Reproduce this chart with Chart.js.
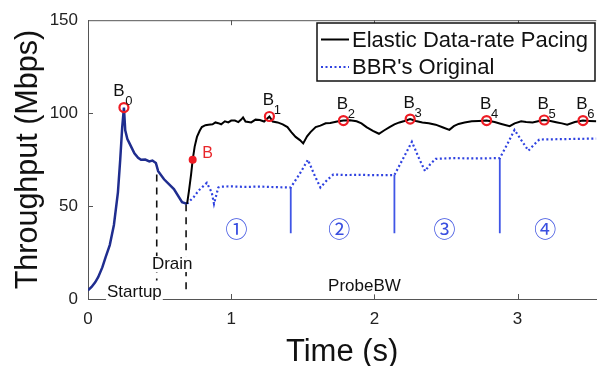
<!DOCTYPE html>
<html>
<head>
<meta charset="utf-8">
<script src="https://cdn.jsdelivr.net/npm/chart.js@4.4.1/dist/chart.umd.min.js"></script>
<style>
html, body { margin: 0; padding: 0; background: #fff; overflow: hidden; }
canvas { display: block; }
</style>
</head>
<body>
<canvas id="myChart" width="603" height="366"></canvas>
<script>
// values: time (s) / throughput (Mbps)
var startupT = [0, 0.025, 0.05, 0.071, 0.1, 0.122, 0.152, 0.181, 0.209, 0.225, 0.239, 0.251, 0.26, 0.275, 0.29, 0.324, 0.35, 0.37, 0.4, 0.428, 0.45, 0.474, 0.49, 0.531, 0.6, 0.657, 0.692];
var startupV = [4.7, 6.5, 9, 11.7, 17, 22.3, 29, 39.8, 57.4, 74.9, 92.5, 103, 90.7, 86, 83.7, 78.4, 76, 74.9, 75, 74, 74.5, 73.2, 68.8, 64.4, 59.1, 52.1, 51.2];

var elasticT = [0.692, 0.705, 0.72, 0.731, 0.745, 0.761, 0.78, 0.795, 0.82, 0.841, 0.87, 0.89, 0.91, 0.93, 0.956, 0.98, 1.0, 1.026, 1.05, 1.07, 1.083, 1.1, 1.14, 1.17, 1.2, 1.23, 1.267, 1.29, 1.324, 1.36, 1.393, 1.42, 1.45, 1.48, 1.503, 1.53, 1.554, 1.59, 1.623, 1.66, 1.692, 1.74, 1.784, 1.83, 1.876, 1.91, 1.945, 1.99, 2.032, 2.07, 2.106, 2.14, 2.175, 2.21, 2.25, 2.29, 2.335, 2.38, 2.428, 2.48, 2.524, 2.555, 2.588, 2.63, 2.68, 2.73, 2.784, 2.84, 2.887, 2.945, 2.98, 3.025, 3.06, 3.105, 3.15, 3.186, 3.23, 3.278, 3.31, 3.347, 3.4, 3.457, 3.5, 3.55];
var elasticV = [51.2, 58, 67, 74.9, 82, 87.2, 90.5, 92.5, 93.5, 93.8, 94, 95, 94.6, 94, 95.6, 95, 96, 96, 95.2, 96.5, 97.7, 95.5, 95, 96.5, 96.3, 95.5, 98.2, 95.5, 95, 94, 92.5, 89.8, 87.2, 85.5, 83.7, 87.5, 89.8, 92.5, 93.3, 94.5, 94.7, 95.5, 96, 96.2, 95.6, 94.5, 92.5, 90.5, 88.9, 90.8, 92.5, 94, 95, 95.8, 96.8, 95.8, 95, 94.6, 93.8, 92.3, 91, 93, 94.2, 95, 95.6, 95.8, 96, 95.2, 94.2, 93, 94.5, 95.6, 95.2, 95, 95.8, 96.3, 95.8, 95, 94.5, 93.8, 95.2, 96, 95.8, 95.6];

var bbrT = [0.692, 0.703, 0.74, 0.772, 0.83, 0.864, 0.88, 0.91, 0.922, 1.0, 1.1, 1.2, 1.3, 1.416, 1.48, 1.536, 1.58, 1.623, 1.67, 1.714, 1.8, 1.9, 2.0, 2.14, 2.2, 2.262, 2.31, 2.354, 2.39, 2.428, 2.55, 2.7, 2.876, 2.93, 2.979, 3.03, 3.076, 3.115, 3.152, 3.3, 3.45, 3.55];
var bbrV = [51.2, 52.1, 55, 58.3, 62.5, 57.4, 51.2, 60, 60.4, 60.6, 60.3, 60.5, 60.2, 60, 67.5, 74.9, 67, 60, 64, 67, 66.7, 66.8, 66.6, 66.7, 75.5, 84.6, 76, 68.8, 72.5, 75.4, 75.8, 75.6, 75.8, 83.5, 91, 85, 79.8, 83, 85.8, 86, 86.2, 86.3];

// ProbeBW cycle boundaries (solid blue) and phase boundaries (dashed black)
var cycleT = [1.416, 2.14, 2.876];
var cycleTop = [60, 66.7, 75.8];
var cycleBottom = [35.4, 35.4, 35.4];
var phaseT = [0.48, 0.685];
var phaseTop = [67, 51];
var phaseBottom = [10, 3.5];

// B_i markers
var markT = [0.251, 1.267, 1.784, 2.25, 2.784, 3.186, 3.457];
var markV = [103, 98.2, 96, 96.8, 96, 96.3, 96];
var markSub = ['0', '1', '2', '3', '4', '5', '6'];
var bPointT = [0.731];
var bPointV = [74.9];

// text in the plot
var phaseNames = ['Startup', 'Drain', 'ProbeBW'];
var phaseNameT = [0.324, 0.588, 1.931];
var phaseNameV = [3.8, 18.8, 6.8];
var cycleNames = ['\u2460', '\u2461', '\u2462', '\u2463'];
var cycleNameT = [1.037, 1.754, 2.49, 3.193];
var cycleNameV = [37.6, 37.6, 37.6, 37.6];

var xTicks = [0, 1, 2, 3];
var yTicks = [0, 50, 100, 150];

var FONT = '"Liberation Sans", Arial, Helvetica, sans-serif';

function pts(xs, ys) {
    return xs.map(function(x, i) { return {x: x, y: ys[i]}; });
}
// vertical segments separated by gaps
function segs(xs, tops, bottoms) {
    var out = [];
    xs.forEach(function(x, i) {
        out.push({x: x, y: tops[i]});
        out.push({x: x, y: bottoms[i]});
        out.push({x: x, y: null});
    });
    return out;
}

var axisColor = '#555';

var extras = {
    id: 'extras',
    afterDraw: function(chart) {
        var ctx = chart.ctx;
        var xs = chart.scales.x, ys = chart.scales.y;
        var a = chart.chartArea;
        ctx.save();
        // top frame line and inner ticks
        ctx.strokeStyle = axisColor;
        ctx.lineWidth = 1;
        ctx.beginPath();
        ctx.moveTo(a.left, a.top + 0.5);
        ctx.lineTo(a.right, a.top + 0.5);
        xTicks.forEach(function(v) {
            if (v === 0) return;
            var px = Math.round(xs.getPixelForValue(v)) + 0.5;
            ctx.moveTo(px, a.bottom); ctx.lineTo(px, a.bottom - 5);
            ctx.moveTo(px, a.top); ctx.lineTo(px, a.top + 5);
        });
        yTicks.forEach(function(v) {
            if (v === 0 || v === 150) return;
            var py = Math.round(ys.getPixelForValue(v)) + 0.5;
            ctx.moveTo(a.left, py); ctx.lineTo(a.left + 5, py);
        });
        ctx.stroke();

        // B_i labels
        ctx.textAlign = 'center';
        ctx.textBaseline = 'middle';
        markT.forEach(function(t, i) {
            var px = xs.getPixelForValue(t), py = ys.getPixelForValue(markV[i]);
            ctx.fillStyle = '#111';
            ctx.font = '17px ' + FONT;
            ctx.fillText('B', px - (i === 0 ? 5 : 1), py - 16);
            ctx.font = '13px ' + FONT;
            ctx.fillText(markSub[i], px + (i === 0 ? 5 : 8), py - 6);
        });
        // red B
        ctx.fillStyle = '#e8262a';
        ctx.font = '16px ' + FONT;
        ctx.fillText('B', xs.getPixelForValue(bPointT[0]) + 15, ys.getPixelForValue(bPointV[0]) - 6);

        // phase names (white behind, so dashed lines break at the text)
        ctx.font = '17px ' + FONT;
        phaseNames.forEach(function(s, i) {
            var px = xs.getPixelForValue(phaseNameT[i]), py = ys.getPixelForValue(phaseNameV[i]);
            var w = ctx.measureText(s).width;
            ctx.fillStyle = '#fff';
            ctx.fillRect(px - w / 2 - 1, py - 8, w + 2, 16);
            ctx.fillStyle = '#111';
            ctx.fillText(s, px, py);
        });
        // circled cycle numbers
        ctx.fillStyle = '#3a4fe0';
        ctx.font = '22px "Noto Sans CJK JP", "DejaVu Sans", sans-serif';
        cycleNames.forEach(function(s, i) {
            ctx.fillText(s, xs.getPixelForValue(cycleNameT[i]), ys.getPixelForValue(cycleNameV[i]));
        });

        // legend box
        var lx = 317, ly = 23, lw = 278, lh = 58;
        ctx.fillStyle = '#fff';
        ctx.fillRect(lx, ly, lw, lh);
        ctx.strokeStyle = '#111';
        ctx.lineWidth = 1.5;
        ctx.strokeRect(lx, ly, lw, lh);
        var entries = chart.data.datasets.filter(function(d) { return d.label; });
        ctx.textAlign = 'left';
        ctx.font = '22px ' + FONT;
        entries.forEach(function(d, i) {
            var ry = ly + 16.5 + i * 27.5;
            ctx.strokeStyle = d.borderColor;
            ctx.lineWidth = d.borderWidth;
            ctx.setLineDash(d.borderDash || []);
            ctx.beginPath();
            ctx.moveTo(lx + 4, ry); ctx.lineTo(lx + 32, ry);
            ctx.stroke();
            ctx.setLineDash([]);
            ctx.fillStyle = '#111';
            ctx.fillText(d.label, lx + 35, ry + 1);
        });
        ctx.restore();
    }
};

var ctx = document.getElementById('myChart').getContext('2d');
var myChart = new Chart(ctx, {
    type: 'line',
    data: {
        datasets: [
            {
                label: '',
                data: pts(markT, markV),
                showLine: false,
                pointRadius: 4.5,
                pointBorderWidth: 2.2,
                pointBorderColor: '#ee1c24',
                pointBackgroundColor: 'rgba(0,0,0,0)'
            },
            {
                label: '',
                data: pts(bPointT, bPointV),
                showLine: false,
                pointRadius: 4,
                pointBorderWidth: 0,
                pointBackgroundColor: '#ee1c24'
            },
            {
                label: 'Elastic Data-rate Pacing',
                data: pts(elasticT, elasticV),
                borderColor: '#000',
                borderWidth: 2,
                pointRadius: 0
            },
            {
                label: '',
                data: pts(startupT, startupV),
                borderColor: '#1f2d8f',
                borderWidth: 2.5,
                pointRadius: 0
            },
            {
                label: "BBR's Original",
                data: pts(bbrT, bbrV),
                borderColor: '#2f42e0',
                borderWidth: 2.2,
                borderDash: [2, 2.5],
                pointRadius: 0
            },
            {
                label: '',
                data: segs(cycleT, cycleTop, cycleBottom),
                borderColor: '#3f55e6',
                borderWidth: 1.8,
                pointRadius: 0,
                spanGaps: false
            },
            {
                label: '',
                data: segs(phaseT, phaseTop, phaseBottom),
                borderColor: '#111',
                borderWidth: 1.6,
                borderDash: [7, 6],
                pointRadius: 0,
                spanGaps: false
            }
        ]
    },
    options: {
        responsive: false,
        animation: false,
        layout: { padding: { top: 14, right: 0, left: 0, bottom: 0 } },
        elements: { line: { tension: 0 } },
        plugins: {
            legend: { display: false },
            tooltip: { enabled: false }
        },
        scales: {
            x: {
                type: 'linear',
                min: 0,
                max: 3.55,
                afterFit: function(s) { s.height = 67; },
                afterBuildTicks: function(s) { s.ticks = xTicks.map(function(v) { return {value: v}; }); },
                grid: { display: false, drawTicks: false },
                border: { display: true, color: axisColor, width: 1 },
                ticks: { padding: 10, color: '#222', font: { family: FONT, size: 17 }, maxRotation: 0 },
                title: { display: true, text: 'Time (s)', color: '#111', font: { family: FONT, size: 31, lineHeight: 1 }, padding: { top: 0, bottom: -2 } }
            },
            y: {
                min: 0,
                max: 150,
                afterFit: function(s) { s.width = 88; },
                afterBuildTicks: function(s) { s.ticks = yTicks.map(function(v) { return {value: v}; }); },
                grid: { display: false, drawTicks: false },
                border: { display: true, color: axisColor, width: 1 },
                ticks: { padding: 10, color: '#222', font: { family: FONT, size: 17 } },
                title: { display: true, text: 'Throughput (Mbps)', color: '#111', font: { family: FONT, size: 30.5, lineHeight: 1.2 }, padding: { top: 10, bottom: 0 } }
            }
        }
    },
    plugins: [extras]
});
</script>
</body>
</html>
